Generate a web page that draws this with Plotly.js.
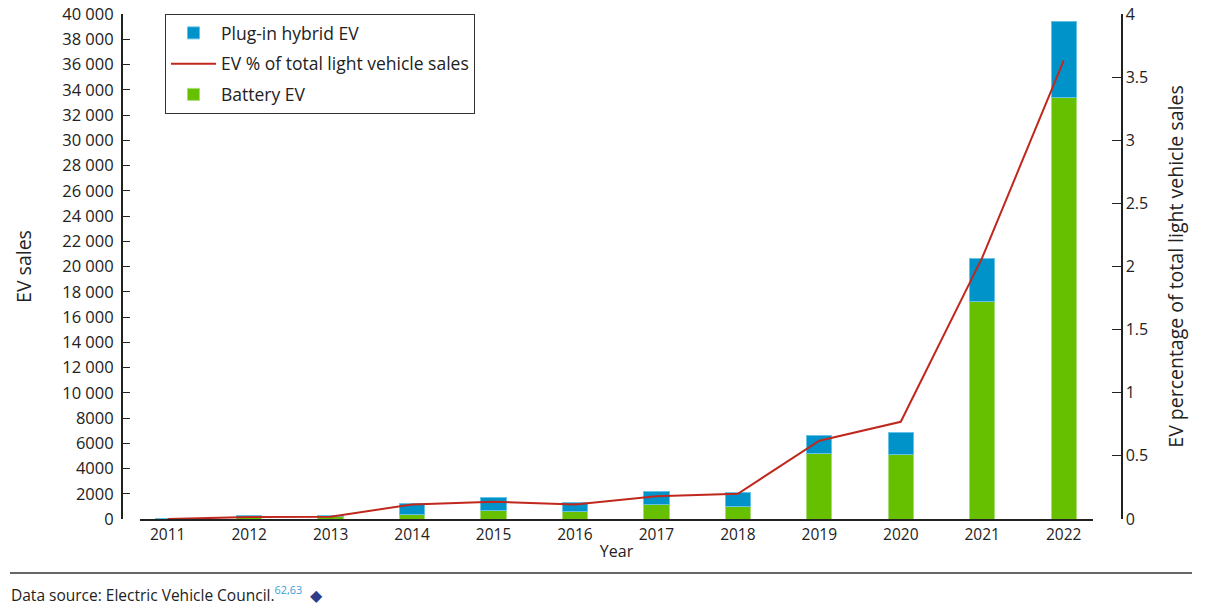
<!DOCTYPE html>
<html>
<head>
<meta charset="utf-8">
<script src="https://cdn.plot.ly/plotly-3.0.1.min.js"></script>
<style>html,body{margin:0;padding:0;background:#fff;}#chart{width:1205px;height:606px;}</style>
</head>
<body>
<div id="chart"></div>
<script>
const years = [2011, 2012, 2013, 2014, 2015, 2016, 2017, 2018, 2019, 2020, 2021, 2022];
const yearLabels = ["2011","2012","2013","2014","2015","2016","2017","2018","2019","2020","2021","2022"];
const batteryEV = [49, 150, 200, 320, 710, 610, 1160, 1000, 5190, 5110, 17200, 33350];
const plugInHybridEV = [0, 100, 100, 940, 1010, 730, 1030, 1080, 1430, 1770, 3400, 6020];
const evSharePct = [0, 0.015, 0.018, 0.115, 0.136, 0.115, 0.18, 0.2, 0.62, 0.77, 2.07, 3.63];
const leftTickVals = [0,2000,4000,6000,8000,10000,12000,14000,16000,18000,20000,22000,24000,26000,28000,30000,32000,34000,36000,38000,40000];
const leftTickText = ["0","2000","4000","6000","8000","10 000","12 000","14 000","16 000","18 000","20 000","22 000","24 000","26 000","28 000","30 000","32 000","34 000","36 000","38 000","40 000"];
const rightTickVals = [0,0.5,1,1.5,2,2.5,3,3.5,4];
const rightTickText = ["0","0.5","1","1.5","2","2.5","3","3.5","4"];

const FONT = "Open Sans, Lato, sans-serif";
const TXT = "#222";

const traces = [
  {type:"bar", name:"Battery EV", x:years, y:batteryEV, legendrank:3, legendgroup:"c",
   marker:{color:"#66c000", line:{color:"#a9dd73", width:1}}, hoverinfo:"y"},
  {type:"bar", name:"Plug-in hybrid EV", x:years, y:plugInHybridEV, legendrank:1, legendgroup:"a",
   marker:{color:"#0093c9", line:{color:"#66c3e6", width:1}}, hoverinfo:"y"},
  {type:"scatter", mode:"lines", name:"EV % of total light vehicle sales", x:years, y:evSharePct, yaxis:"y2",
   legendrank:2, legendgroup:"b", line:{color:"#c0281e", width:2}}
];

const layout = {
  width:1205, height:606,
  margin:{l:121, r:84, t:14, b:87},
  paper_bgcolor:"#fff", plot_bgcolor:"#fff",
  font:{family:FONT, color:TXT, size:16},
  barmode:"stack", bargap:0.69,
  showlegend:true,
  legend:{x:0.044, y:1, xanchor:"left", yanchor:"top", bgcolor:"#fff", bordercolor:"#333", borderwidth:1,
          font:{family:FONT, size:17.5, color:TXT}, traceorder:"grouped", tracegroupgap:5, itemwidth:45},
  xaxis:{domain:[0.019, 0.972], range:[2010.66, 2022.36], tickvals:years, ticktext:yearLabels,
         showline:true, linecolor:"#222", linewidth:2, ticks:"", showgrid:false, zeroline:false,
         tickfont:{size:15.5, color:TXT}, title:{text:"Year", font:{size:16, color:TXT}, standoff:2}},
  yaxis:{anchor:"free", position:0, range:[0,40000], tickvals:leftTickVals, ticktext:leftTickText,
         showline:true, linecolor:"#222", linewidth:1.5, ticks:"inside", ticklen:7, tickcolor:"#222",
         ticklabelstandoff:4,
         showgrid:false, zeroline:false, tickfont:{size:16.5, color:TXT},
         title:{text:"EV sales", font:{size:19.5, color:TXT}, standoff:24}},
  yaxis2:{overlaying:"y", side:"right", anchor:"free", position:1, range:[0,4], tickvals:rightTickVals, ticktext:rightTickText,
          showline:true, linecolor:"#222", linewidth:1.5, ticks:"inside", ticklen:9, tickcolor:"#222",
          showgrid:false, zeroline:false, tickfont:{size:16, color:TXT},
          title:{text:"EV percentage of total light vehicle sales", font:{size:19.5, color:TXT}, standoff:22}},
  shapes:[
    {type:"line", xref:"paper", yref:"paper", x0:-0.111, x1:1.071, y0:-0.107, y1:-0.107, line:{color:"#666", width:2}}
  ],
  annotations:[
    {xref:"paper", yref:"paper", x:-0.112, y:-0.1485, xanchor:"left", yanchor:"middle", showarrow:false,
     text:"Data source: Electric Vehicle Council.<sup><span style='color:#3a9fd6'>62,63</span></sup>  <span style='color:#2e3a8c'>◆</span>",
     font:{family:FONT, size:15.5, color:TXT}}
  ]
};

Plotly.newPlot("chart", traces, layout, {displayModeBar:false, staticPlot:true});
</script>
</body>
</html>
